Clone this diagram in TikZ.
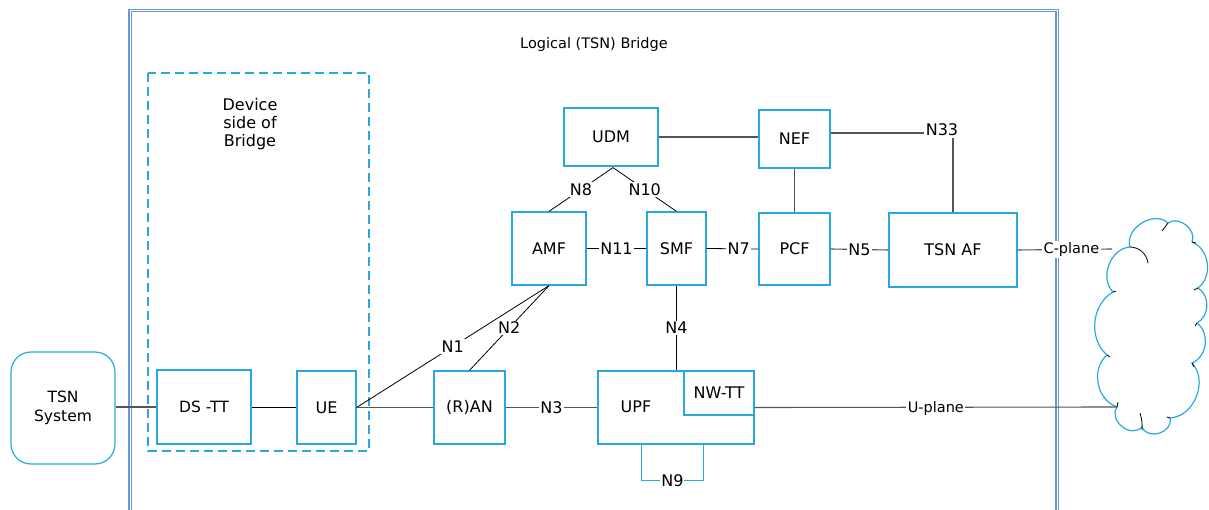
\documentclass[tikz,border=0pt]{standalone}
\usepackage{fontspec}
\setmainfont{DejaVu Sans}
\usetikzlibrary{calc}
\definecolor{nfblue}{RGB}{41,168,224}
\definecolor{frameblue}{RGB}{110,150,210}
\definecolor{lngray}{RGB}{85,85,85}
\begin{document}
\begin{tikzpicture}[x=1pt,y=-1pt,
  font=\fontsize{16}{19}\selectfont,
  nf/.style={draw=nfblue, line width=1.2pt, inner sep=0pt, fill=white},
  ln/.style={draw=lngray, line width=1.1pt},
  sl/.style={draw=black, line width=0.8pt},
  lbl/.style={fill=white, inner sep=1.5pt},
  plbl/.style={fill=white, inner sep=1.5pt, font=\fontsize{14.5}{17}\selectfont},
  dashbox/.style={draw=nfblue, line width=2pt, dash pattern=on 9pt off 5pt},
  framebox/.style={draw=frameblue, double=white, double distance=1pt, line width=1.1pt},
  cloudline/.style={draw=nfblue, line width=1.2pt}]
\useasboundingbox (0,0) rectangle (1209,510);

% logical bridge frame
\draw[framebox] (130,530) -- (130,10.5) -- (1057,10.5) -- (1057,530);
\node[font=\fontsize{14.5}{17}\selectfont] (title) at (594,45) {Logical (TSN) Bridge};

% device side dashed box
\draw[dashbox] (148,73) rectangle (369,451);
\node[align=center, font=\fontsize{16}{18}\selectfont] (devside) at (250,124) {Device\\side of\\Bridge};

% nodes
\node[nf, rounded corners=20pt, minimum width=104pt, minimum height=112pt, align=center, font=\fontsize{15.5}{19}\selectfont] (tsnsys) at (63,408) {TSN\\System};
\node[nf, minimum width=94pt, minimum height=74pt, font=\fontsize{15.5}{19}\selectfont] (dstt) at (204,407) {DS -TT};
\node[nf, minimum width=59pt, minimum height=73pt] (ue) at (326.5,407.5) {UE};
\node[nf, minimum width=71pt, minimum height=73pt] (ran) at (469.5,407.5) {(R)AN};
\node[nf, minimum width=156pt, minimum height=73pt] (upf) at (676,407.5) {};
\node (upflbl) at (636,407) {UPF};
\node[nf, minimum width=70pt, minimum height=44pt] (nwtt) at (719,393) {NW-TT};
\node[nf, minimum width=74pt, minimum height=73pt] (amf) at (549,248.5) {AMF};
\node[nf, minimum width=59pt, minimum height=73pt] (smf) at (676.5,248.5) {SMF};
\node[nf, minimum width=71pt, minimum height=72pt] (pcf) at (794.5,249) {PCF};
\node[nf, minimum width=94pt, minimum height=58pt] (udm) at (611,137) {UDM};
\node[nf, minimum width=71pt, minimum height=58pt] (nef) at (794.5,139) {NEF};
\node[nf, minimum width=128pt, minimum height=74pt] (tsnaf) at (953,250) {TSN AF};

% cloud
\coordinate (c0) at (1130,247);
\draw[cloudline] (c0)
  to[bend left=75, looseness=1.1] (1168,223)
  to[bend left=75, looseness=1.1] (1192,242)
  to[bend left=60, looseness=1.05] (1198,288)
  to[bend left=60, looseness=1.05] (1197,323)
  to[bend left=60, looseness=1.05] (1192,363)
  to[bend left=65, looseness=1.05] (1170,418)
  to[bend left=85, looseness=1.3] (1142,427)
  to[bend left=85, looseness=1.3] (1117,407)
  to[bend left=60, looseness=1.05] (1107,355)
  to[bend left=55, looseness=1.0] (1113,292)
  to[bend left=65, looseness=1.05] (c0);
\draw[sl] (1130,247) to[bend left=40] (1148,263);
\draw[sl] (1140,413) to[bend left=10] (1142,430);
\draw[sl] (1162,231) -- (1168,223);
\draw[sl] (1192,242) -- (1196,243);
\draw[sl] (1198,288) -- (1194,290);
\draw[sl] (1197,323) -- (1195,326);
\draw[sl] (1192,363) -- (1194,367);
\draw[sl] (1170,418) -- (1167,417);
\draw[sl] (1107,355) -- (1110,357);
\draw[sl] (1113,292) -- (1116,291);
\draw[sl] (1117,407) -- (1118,402);
\coordinate (cpend) at (1112,249);
\coordinate (upend) at (1117,407);

% connectors
\draw[ln] (tsnsys.east |- dstt.west) -- (dstt.west);
\draw[sl] (dstt.east) -- (ue.west |- dstt.east);
\draw[ln] (ue.east) -- (ran.west);
\draw[sl] (ue.east) -- node[lbl, pos=0.5] {N1} (amf.south);
\draw[sl] (ran.north) -- node[lbl, pos=0.5] {N2} (amf.south);
\draw[ln] (ran.east) -- node[lbl] {N3} (upf.west |- ran.east);
\draw[sl] (smf.south) -- node[lbl] {N4} (smf.south |- upf.north);
\draw[ln] (nwtt.east |- upf.west) -- node[plbl, pos=0.5, yshift=-1pt] {U-plane} (upend);
\coordinate (n9a) at ($(upf.south west)+(44,0)$);
\coordinate (n9b) at ($(upf.south west)+(106,0)$);
\draw[draw=nfblue, line width=1.1pt] (n9a) -- ++(0,36) coordinate (n9c) -- node[lbl, inner sep=1pt] {N9} (n9c -| n9b) -- (n9b);
\draw[sl] (amf.east) -- node[lbl] {N11} (smf.west);
\draw[sl] (smf.east) -- node[lbl, pos=0.62] {N7} (pcf.west);
\draw[ln] (pcf.east) -- node[lbl] {N5} (tsnaf.west);
\draw[ln] (tsnaf.east) -- node[plbl, pos=0.57] {C-plane} (cpend);
\coordinate (udmb) at ($(udm.south)+(2,1)$);
\draw[sl] (udmb) -- node[lbl] {N8} (amf.north);
\draw[sl] (udmb) -- node[lbl] {N10} (smf.north);
\draw[ln] (udm.east) -- (nef.west |- udm.east);
\draw[ln] (nef.south) -- (pcf.north);
\draw[ln] ($(nef.east)+(0,-6)$) -| node[lbl, pos=0.5, xshift=-11pt, yshift=3pt] {N33} (tsnaf.north);
\end{tikzpicture}
\end{document}
